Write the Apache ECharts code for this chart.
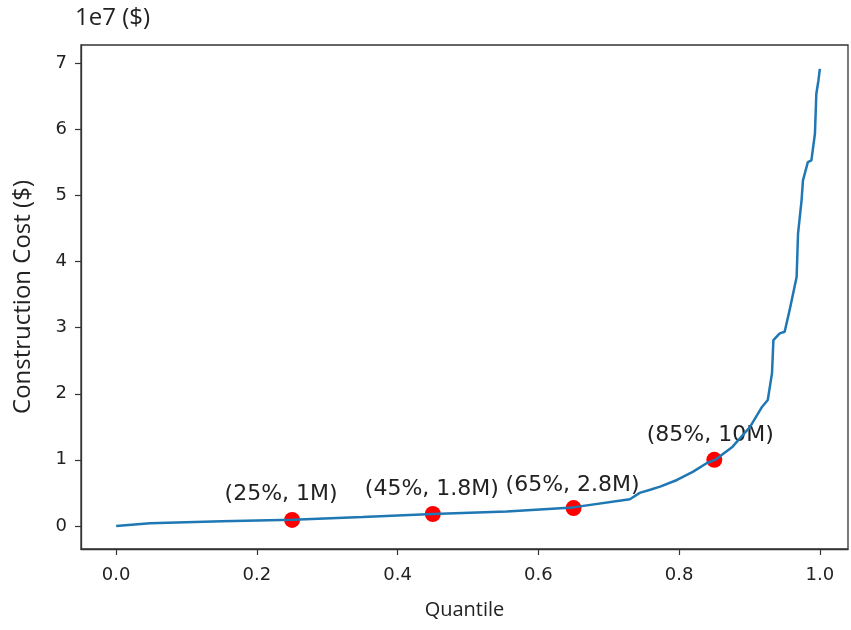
<!DOCTYPE html>
<html>
<head>
<meta charset="utf-8">
<script src="https://cdn.jsdelivr.net/npm/echarts@6/dist/echarts.min.js"></script>
<style>
html,body{margin:0;padding:0;background:#fff;}
#chart{width:851px;height:630px;}
</style>
</head>
<body>
<div id="chart"></div>
<script>
// Quantile curve (x = quantile, y = cost in units of 1e7 $)
var quantiles = [0.0, 0.048, 0.15, 0.251, 0.35, 0.450, 0.555, 0.649, 0.730, 0.744, 0.760, 0.773, 0.797, 0.820, 0.839, 0.851, 0.876, 0.901, 0.918, 0.926, 0.932, 0.934, 0.943, 0.950, 0.957, 0.967, 0.969, 0.974, 0.976, 0.983, 0.988, 0.993, 0.995, 0.998, 1.0];
var costs =     [0.0, 0.04,  0.07, 0.091, 0.135, 0.181, 0.216, 0.28, 0.404, 0.499, 0.55, 0.594, 0.695, 0.821, 0.948, 0.998, 1.199, 1.501, 1.804, 1.905, 2.313, 2.812, 2.914, 2.938, 3.266, 3.769, 4.426, 4.929, 5.231, 5.508, 5.534, 5.937, 6.542, 6.743, 6.92];

// Highlighted quantile points
var markQ = [0.25, 0.45, 0.65, 0.85];
var markCost = [0.09, 0.18, 0.27, 1.0];
var markLabels = ['(25%, 1M)', '(45%, 1.8M)', '(65%, 2.8M)', '(85%, 10M)'];
var markOffsets = [[-11, -1], [-1, 0], [-1, 2], [-4, 0]];

var xTicks = [0.0, 0.2, 0.4, 0.6, 0.8, 1.0];
var yTicks = [0, 1, 2, 3, 4, 5, 6, 7];

var lineData = quantiles.map(function (q, i) { return [q, costs[i]]; });
var pointData = markQ.map(function (q, i) {
  return {
    value: [q, markCost[i]],
    label: { formatter: markLabels[i], offset: markOffsets[i] }
  };
});

var chart = echarts.init(document.getElementById('chart'));
var tickFont = { fontFamily: 'DejaVu Sans', fontSize: 18, color: '#222' };
chart.setOption({
  animation: false,
  grid: { left: 81, top: 45, width: 767, height: 504, show: true, borderColor: '#333', borderWidth: 1.3, backgroundColor: 'transparent' },
  graphic: [{
    type: 'text', left: 75, top: 6,
    style: { text: '1e7 ($)', font: '24px "Open Sans"', fill: '#222' }
  }],
  xAxis: {
    type: 'value', min: -0.05, max: 1.04,
    name: 'Quantile', nameLocation: 'middle', nameGap: 51,
    nameTextStyle: { fontFamily: 'Open Sans', fontSize: 20, color: '#222' },
    axisLine: { show: true, onZero: false, lineStyle: { color: '#333', width: 1.3 } },
    axisTick: { show: true, length: 6, customValues: xTicks, lineStyle: { color: '#333', width: 1.2 } },
    axisLabel: Object.assign({ customValues: xTicks, margin: 17, formatter: function (v) { return v.toFixed(1); } }, tickFont),
    splitLine: { show: false }
  },
  yAxis: {
    type: 'value', min: -0.35, max: 7.28,
    name: 'Construction Cost ($)', nameLocation: 'middle', nameGap: 46, nameRotate: 90,
    nameTextStyle: { fontFamily: 'Open Sans', fontSize: 24, color: '#222' },
    axisLine: { show: true, onZero: false, lineStyle: { color: '#333', width: 1.3 } },
    axisTick: { show: true, length: 6, customValues: yTicks, lineStyle: { color: '#333', width: 1.2 } },
    axisLabel: Object.assign({ customValues: yTicks, margin: 14, formatter: function (v) { return String(Math.round(v)); } }, tickFont),
    splitLine: { show: false }
  },
  series: [
    {
      type: 'scatter', data: pointData, symbolSize: 16, z: 2,
      itemStyle: { color: '#ff0000', opacity: 1 },
      label: { show: true, position: 'top', distance: 6, fontFamily: 'DejaVu Sans', fontSize: 22, color: '#222' }
    },
    {
      type: 'line', data: lineData, showSymbol: false, z: 3,
      lineStyle: { color: '#1f77b4', width: 2.5 }
    }
  ]
});
</script>
</body>
</html>
